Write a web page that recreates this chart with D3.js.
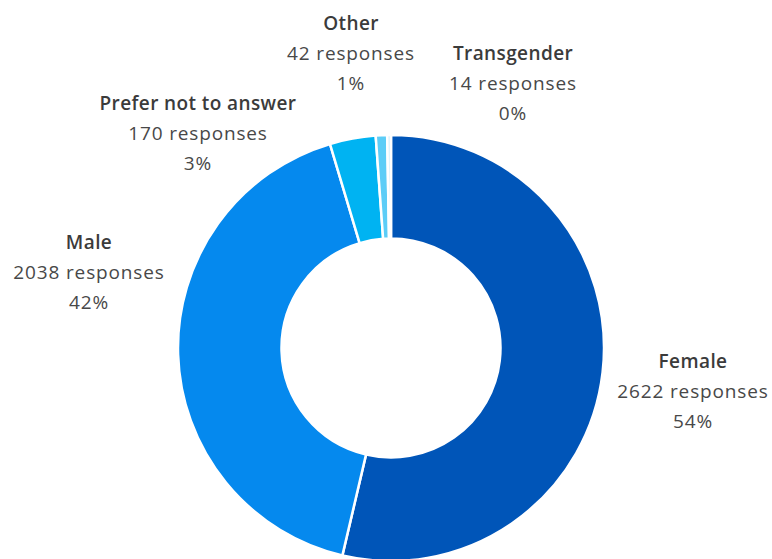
<!DOCTYPE html>
<html>
<head>
<meta charset="utf-8">
<script src="https://cdn.jsdelivr.net/npm/d3@7"></script>
<style>
  html, body { margin: 0; padding: 0; background: #fff; }
  svg { display: block; }
  text { font-family: "Open Sans", "Noto Sans", sans-serif; }
</style>
</head>
<body>
<svg id="chart" width="772" height="559"></svg>
<script>
// ---- data ----
const categories = ["Female", "Male", "Prefer not to answer", "Other", "Transgender"];
const responses = [2622, 2038, 170, 42, 14];
const percentLabels = ["54%", "42%", "3%", "1%", "0%"];
const colors = ["#0055b8", "#0589ee", "#00b3f2", "#5ccdf7", "#d6f1fc"];

// ---- layout (label centres, px) ----
const labelLayout = {
  "Female": [693, 361],
  "Male": [89, 242],
  "Prefer not to answer": [198, 103],
  "Other": [351, 23],
  "Transgender": [513, 53]
};

const W = 772, H = 559;
const cx = 391, cy = 348, outerR = 213, innerR = 109.5;

const svg = d3.select("#chart");
const data = categories.map((c, i) => ({ name: c, value: responses[i], pct: percentLabels[i], color: colors[i] }));

const pie = d3.pie().value(d => d.value).sort(null);
const arc = d3.arc().innerRadius(innerR).outerRadius(outerR);

const g = svg.append("g").attr("transform", `translate(${cx},${cy})`);
g.selectAll("path")
  .data(pie(data))
  .join("path")
  .attr("d", arc)
  .attr("fill", d => d.data.color)
  .attr("stroke", "#fff")
  .attr("stroke-width", 2.5)
  .attr("stroke-linejoin", "round");

const lineH = 30;
const labels = svg.append("g").selectAll("text")
  .data(data)
  .join("text")
  .attr("text-anchor", "middle")
  .attr("font-size", 19)
  .attr("x", d => labelLayout[d.name][0])
  .attr("y", d => labelLayout[d.name][1]);

labels.append("tspan")
  .attr("x", d => labelLayout[d.name][0])
  .attr("dy", "0.35em")
  .attr("font-weight", 600)
  .attr("letter-spacing", 0.4)
  .attr("fill", "#3b3b3b")
  .text(d => d.name);
labels.append("tspan")
  .attr("x", d => labelLayout[d.name][0])
  .attr("dy", lineH)
  .attr("letter-spacing", 0.85)
  .attr("fill", "#484848")
  .text(d => `${d.value} responses`);
labels.append("tspan")
  .attr("x", d => labelLayout[d.name][0])
  .attr("dy", lineH)
  .attr("letter-spacing", 0.85)
  .attr("fill", "#484848")
  .text(d => d.pct);
</script>
</body>
</html>
